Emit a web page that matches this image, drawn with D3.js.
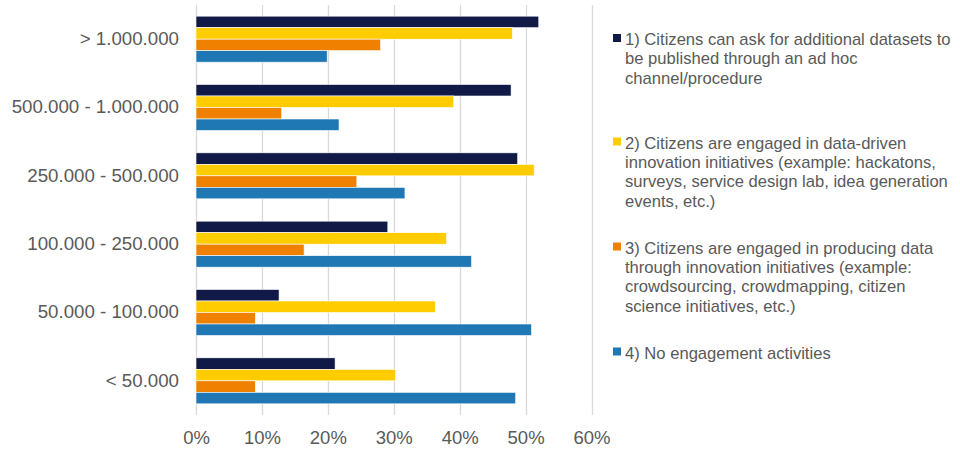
<!DOCTYPE html>
<html>
<head>
<meta charset="utf-8">
<script src="https://cdn.jsdelivr.net/npm/d3@7"></script>
<style>
  html, body { margin: 0; padding: 0; background: #fff; }
  svg { display: block; }
  text { font-family: "Liberation Sans", Arial, sans-serif; fill: #595959; }
</style>
</head>
<body>
<svg id="chart" width="960" height="452"></svg>
<script>
// ---- data ----
const categories = ["> 1.000.000", "500.000 - 1.000.000", "250.000 - 500.000", "100.000 - 250.000", "50.000 - 100.000", "< 50.000"];
const seriesNames = [
  "1) Citizens can ask for additional datasets to be published through an ad hoc channel/procedure",
  "2) Citizens are engaged in data-driven innovation initiatives (example: hackatons, surveys, service design lab, idea generation events, etc.)",
  "3) Citizens are engaged in producing data through innovation initiatives (example: crowdsourcing, crowdmapping, citizen science initiatives, etc.)",
  "4) No engagement activities"
];
const legendLines = [
  ["1) Citizens can ask for additional datasets to", "be published through an ad hoc", "channel/procedure"],
  ["2) Citizens are engaged in data-driven", "innovation initiatives (example: hackatons,", "surveys, service design lab, idea generation", "events, etc.)"],
  ["3) Citizens are engaged in producing data", "through innovation initiatives (example:", "crowdsourcing, crowdmapping, citizen", "science initiatives, etc.)"],
  ["4) No engagement activities"]
];
const series1 = [0.520, 0.478, 0.488, 0.291, 0.126, 0.211];
const series2 = [0.480, 0.391, 0.513, 0.380, 0.363, 0.303];
const series3 = [0.280, 0.130, 0.244, 0.164, 0.090, 0.090];
const series4 = [0.199, 0.217, 0.317, 0.418, 0.509, 0.485];
const tickValues = [0, 0.1, 0.2, 0.3, 0.4, 0.5, 0.6];
const colors = ["#111946", "#FFCC00", "#F08100", "#1F78B4"];

// ---- chart ----
const svg = d3.select("#chart");
const allSeries = [series1, series2, series3, series4];

const x = d3.scaleLinear().domain([0, 0.6]).range([196, 591.5]);
const y = d3.scaleBand().domain(categories).range([5, 415]).paddingInner(0.327).paddingOuter(0.1635);
const ySub = d3.scaleBand().domain(d3.range(allSeries.length)).range([0, y.bandwidth()]).padding(0);

// gridlines
svg.append("g").selectAll("line").data(tickValues).join("line")
  .attr("x1", d => Math.round(x(d)) + 0.5).attr("x2", d => Math.round(x(d)) + 0.5)
  .attr("y1", 5).attr("y2", 415)
  .attr("stroke", "#D9D9D9").attr("stroke-width", 1.3);

// x axis labels
const xAxis = d3.axisBottom(x).tickValues(tickValues).tickSize(0).tickPadding(0)
  .tickFormat(d3.format(".0%"));
const gx = svg.append("g").attr("transform", "translate(0,431)").call(xAxis);
gx.select(".domain").remove();
gx.selectAll("text").attr("font-size", 18.5).attr("dy", "0.71em")
  .style("font-family", "'Liberation Sans', Arial, sans-serif").attr("fill", "#595959");

// y axis labels
const yAxis = d3.axisLeft(y).tickSize(0).tickPadding(17);
const gy = svg.append("g").attr("transform", "translate(196,0)").call(yAxis);
gy.select(".domain").remove();
gy.selectAll("text").attr("font-size", 18.7)
  .style("font-family", "'Liberation Sans', Arial, sans-serif").attr("fill", "#595959");

// bars
const groups = svg.append("g").selectAll("g").data(categories).join("g")
  .attr("transform", d => `translate(0,${y(d)})`);
groups.selectAll("rect")
  .data((c, i) => allSeries.map((s, k) => ({ k, v: s[i] })))
  .join("rect")
  .attr("x", x(0))
  .attr("y", d => ySub(d.k))
  .attr("width", d => x(d.v) - x(0))
  .attr("height", ySub.bandwidth())
  .attr("fill", d => colors[d.k])
  .attr("stroke", "#fff").attr("stroke-width", 0.6);

// legend
const legendStarts = [45, 148.5, 253.5, 358.5];
const lineH = 19.4;
const lg = svg.append("g");
legendLines.forEach((lines, k) => {
  const by = legendStarts[k];
  lg.append("rect").attr("x", 613).attr("y", by - 11).attr("width", 8).attr("height", 8).attr("fill", colors[k]);
  const t = lg.append("text").attr("x", 625).attr("y", by).attr("font-size", 16.6);
  lines.forEach((ln, j) => {
    t.append("tspan").attr("x", 625).attr("y", by + j * lineH).text(ln);
  });
});
</script>
</body>
</html>
